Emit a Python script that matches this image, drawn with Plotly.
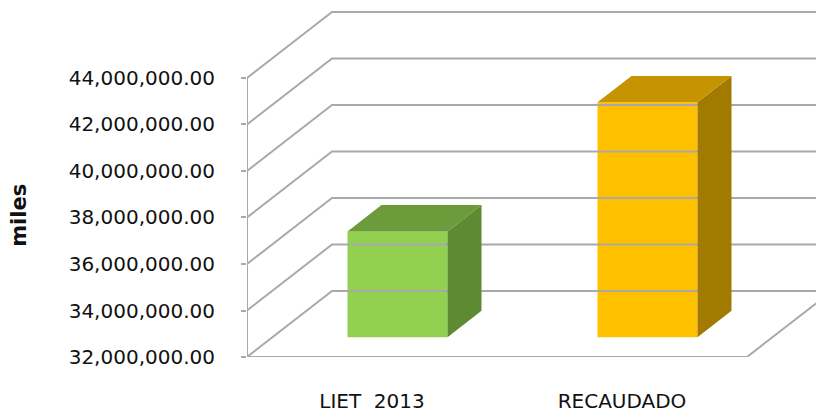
import plotly.graph_objects as go

# chart data
categories = ["LIET\u00a0 2013", "RECAUDADO"]
values = [36_550_000, 42_100_000]
tick_values = [32e6, 34e6, 36e6, 38e6, 40e6, 42e6, 44e6]
axis_title = "miles"

front_colors = ["#92D050", "#FFC000"]
top_colors = ["#6C9B3B", "#C69400"]
side_colors = ["#5D8A33", "#A37A00"]

# fake 3d projection (oblique): depth offset in axis units
DX = 0.34          # x units (one category = 1 unit)
DY = 2.84e6        # value units
y_floor = tick_values[0]
y_top = 47.01e6
x_end = 2.34
bar_w = 0.4
d0, d1 = 0.3, 0.7  # bar depth span as fraction of the wall depth

fig = go.Figure()

# walls: side wall diagonals, back wall gridlines, floor
gx, gy = [], []
for t in tick_values:
    gx += [0, DX, x_end, None]
    gy += [t, t + DY, t + DY, None]
gx += [0, 0, None, 0, len(categories), len(categories) + DX, None]
gy += [tick_values[0], tick_values[-1], None, y_floor, y_floor, y_floor + DY, None]
fig.add_trace(go.Scatter(x=gx, y=gy, mode="lines",
                         line=dict(color="#A9A9A9", width=2),
                         hoverinfo="skip"))

# bars: front face as a real bar, top and side faces as polygons
for i, (cat, v) in enumerate(zip(categories, values)):
    xc = i + 0.5 + d0 * DX
    base = y_floor + d0 * DY
    top = v + d0 * DY
    xl, xr = xc - bar_w / 2, xc + bar_w / 2
    ddx, ddy = (d1 - d0) * DX, (d1 - d0) * DY
    fig.add_trace(go.Scatter(
        x=[xr, xr, xr + ddx, xr + ddx, xr], y=[base, top, top + ddy, base + ddy, base],
        fill="toself", fillcolor=side_colors[i], mode="lines",
        line=dict(width=0, color=side_colors[i]), hoverinfo="skip"))
    fig.add_trace(go.Scatter(
        x=[xl, xr, xr + ddx, xl + ddx, xl], y=[top, top, top + ddy, top + ddy, top],
        fill="toself", fillcolor=top_colors[i], mode="lines",
        line=dict(width=0, color=top_colors[i]), hoverinfo="skip"))
    fig.add_trace(go.Bar(
        x=[xc], y=[v - y_floor], base=[base], width=bar_w,
        marker=dict(color=front_colors[i], line_width=0), name=cat))

fig.add_annotation(text="<b>" + axis_title + "</b>", textangle=-90,
                   xref="paper", yref="paper", x=-0.39, y=0.407,
                   xanchor="center", yanchor="middle",
                   showarrow=False, font=dict(size=21))

fig.update_layout(
    template="none",
    width=824, height=417,
    margin=dict(l=239, r=0, t=0, b=68, pad=0),
    showlegend=False,
    paper_bgcolor="white", plot_bgcolor="white",
    font=dict(family="DejaVu Sans", color="#111111", size=20),
    xaxis=dict(range=[0, x_end], showgrid=False, zeroline=False, showline=False,
               automargin=False,
               tickvals=[i + 0.5 for i in range(len(categories))], ticktext=categories,
               ticks="", ticklabelstandoff=30, tickfont=dict(size=20)),
    yaxis=dict(range=[y_floor, y_top], showgrid=False, zeroline=False, showline=False,
               automargin=False,
               tickvals=tick_values, tickformat=",.2f",
               ticks="outside", ticklen=5, tickcolor="#A9A9A9", tickwidth=2,
               ticklabelstandoff=22),
)

fig.write_html("out.html")
